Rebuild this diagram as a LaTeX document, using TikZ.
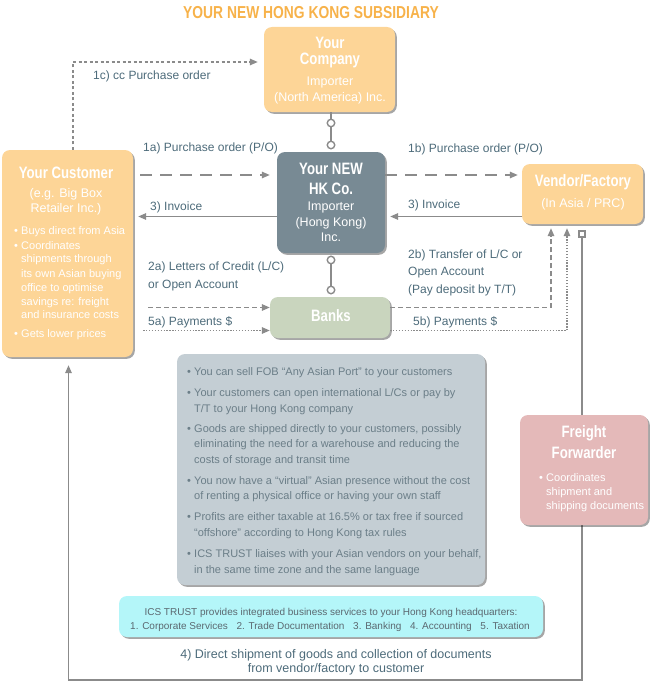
\documentclass[tikz,border=0pt]{standalone}
\usepackage{fontspec}
\setmainfont{Liberation Sans}
\newfontfamily\hkn{Liberation Sans}
\newfontfamily\hkb[FakeStretch=0.8]{Liberation Sans Bold}
\usetikzlibrary{arrows.meta,shadows}
\definecolor{peach}{HTML}{FDD597}
\definecolor{titlec}{HTML}{F7B24A}
\definecolor{hkc}{HTML}{788A94}
\definecolor{bankc}{HTML}{C9D5BE}
\definecolor{greyc}{HTML}{C4CED4}
\definecolor{freightc}{HTML}{E4B9B9}
\definecolor{icsc}{HTML}{B4F6F9}
\definecolor{labc}{HTML}{4D6B7A}
\definecolor{gtxt}{HTML}{6B7E88}
\definecolor{icstxt}{HTML}{5B6870}
\definecolor{conc}{HTML}{8B8B8B}
\tikzset{
  box/.style={rounded corners=8pt, inner sep=0pt,
    drop shadow={shadow xshift=1.8pt, shadow yshift=-1.8pt, opacity=0.35, fill=black}},
  con/.style={draw=conc, line width=1.4pt},
  arr/.style={-{Triangle[length=8pt,width=6.5pt]}},
  dashL/.style={dash pattern=on 12pt off 8pt},
  dashS/.style={dash pattern=on 5pt off 3pt},
  dotS/.style={dash pattern=on 1.3pt off 1.6pt},
  dotC/.style={dash pattern=on 3pt off 2.5pt},
  ring/.style={circle, draw=conc, line width=1.4pt, fill=white, inner sep=0pt, minimum size=7.5pt},
  sqr/.style={rectangle, draw=conc, line width=1.2pt, fill=white, inner sep=0pt, minimum size=6pt},
  lab/.style={anchor=base west, inner sep=0pt, text=labc, font=\hkn\fontsize{12}{14}\selectfont, yshift=-4.3pt},
  labc/.style={anchor=base, inner sep=0pt, text=labc, font=\hkn\fontsize{12.5}{14}\selectfont, yshift=-4.5pt},
  ttlT/.style={anchor=base, inner sep=0pt, text=titlec, font=\hkb\fontsize{17.3}{19}\selectfont, yshift=-6.2pt},
  ttl/.style={anchor=base, inner sep=0pt, text=white, font=\hkb\fontsize{16.5}{18}\selectfont, yshift=-5.9pt},
  sub/.style={anchor=base, inner sep=0pt, text=white, font=\hkn\fontsize{12.5}{14}\selectfont, yshift=-4.5pt},
  bul/.style={anchor=base west, inner sep=0pt, text=white, font=\hkn\fontsize{11}{13}\selectfont, yshift=-4pt},
  bulF/.style={anchor=base west, inner sep=0pt, text=white, font=\hkn\fontsize{11}{13}\selectfont, yshift=-4pt},
  gb/.style={anchor=base west, inner sep=0pt, text=gtxt, font=\hkn\fontsize{11}{13}\selectfont, yshift=-4pt},
  ics/.style={anchor=base, inner sep=0pt, text=icstxt, font=\hkn\fontsize{10}{12}\selectfont, yshift=-3.6pt}
}
\newcommand{\bu}{\makebox[7pt][l]{•}}
\begin{document}
\begin{tikzpicture}[x=1pt,y=-1pt]
\useasboundingbox (0,0) rectangle (654,685);

% boxes
\node[box, fill=peach, minimum width=131pt, minimum height=85pt] (company) at (329.5,69.5) {};
\node[box, fill=hkc, minimum width=108pt, minimum height=101pt] (hk) at (331,202.5) {};
\node[box, fill=peach, minimum width=131pt, minimum height=207pt] (customer) at (67.5,253.5) {};
\node[box, fill=peach, minimum width=121pt, minimum height=60pt] (vendor) at (582.5,194) {};
\node[box, fill=bankc, minimum width=120pt, minimum height=41pt] (banks) at (330,317.5) {};
\node[box, fill=greyc, minimum width=308pt, minimum height=231pt] (grey) at (331,469.5) {};
\node[box, fill=icsc, minimum width=424pt, minimum height=41pt] (icsbox) at (331,616.5) {};

% row coordinates
\coordinate (r1) at (0,175);
\coordinate (r3) at (0,216.5);
\coordinate (r2) at (0,307.5);
\coordinate (r5) at (0,330.5);
\coordinate (c1) at (73,62);
\coordinate (v2) at (551,0);
\coordinate (v5) at (567,0);
\coordinate (l4) at (68.5,0);
\coordinate (bot) at (0,680);

% ring connectors
\node[ring] (o1) at (331,123) {};
\node[ring] (o2) at (331,145) {};
\node[ring] (o3) at (331,260) {};
\node[ring] (o4) at (331,290) {};
\draw[con] (company.south -| o1) -- (o1);
\draw[con] (o1) -- (o2);
\draw[con] (o3) -- (o4);

% connectors
\draw[con, dotC, arr, shorten >=6pt] (c1 |- customer.north) -- (c1) -- (c1 -| company.west);
\draw[con, dashL, arr, shorten <=7pt, shorten >=7pt] (customer.east |- r1) -- (hk.west |- r1);
\draw[con, dashL, arr, shorten >=4pt] (hk.east |- r1) -- (vendor.west |- r1);
\draw[con, arr, shorten >=5pt] (hk.west |- r3) -- (customer.east |- r3);
\draw[con, arr, shorten >=5pt] (vendor.west |- r3) -- (hk.east |- r3);
\draw[con, dashS, arr, shorten <=15pt] (customer.east |- r2) -- (banks.west |- r2);
\draw[con, dotS, arr, shorten <=10pt] (customer.east |- r5) -- (banks.west |- r5);
\draw[con, dashS, arr, shorten >=4pt] (banks.east |- r2) -| (v2 |- vendor.south);
\draw[con, dotS, arr, shorten >=4pt] (banks.east |- r5) -| (v5 |- vendor.south);
\node[sqr] (sq) at (582,234) {};
\draw[con, arr, shorten >=8pt] (sq.south) |- (l4 |- bot) -- (l4 |- customer.south);

% freight forwarder box (over the line)
\node[box, fill=freightc, minimum width=128pt, minimum height=110pt] (freight) at (584,470) {};

% title
\node[ttlT] (title) at (311,12) {YOUR NEW HONG KONG SUBSIDIARY};

% company text
\node[ttl] (tc1) at (330,43) {Your};
\node[ttl] (tc2) at (330,59) {Company};
\node[sub] (tc3) at (330,81) {Importer};
\node[sub] (tc4) at (330,97) {(North America) Inc.};

% hk text
\node[ttl] (th1) at (331,169) {Your NEW};
\node[ttl] (th2) at (331,189) {HK Co.};
\node[sub] (th3) at (331,206) {Importer};
\node[sub] (th4) at (331,221.5) {(Hong Kong)};
\node[sub] (th5) at (331,237) {Inc.};

% vendor text
\node[ttl] (tv1) at (583,181) {Vendor/Factory};
\node[sub] (tv2) at (583,203) {(In Asia / PRC)};

% banks text
\node[ttl] (tb1) at (331,316) {Banks};

% customer text
\node[ttl] (tu1) at (66,173) {Your Customer};
\node[sub] (tu2) at (66,193) {(e.g. Big Box};
\node[sub] (tu3) at (66,208) {Retailer Inc.)};
\node[bul] (tu4) at (14,230) {\bu Buys direct from Asia};
\node[bul] (tu5) at (14,245) {\bu Coordinates};
\node[bul] (tu6) at (21,258) {shipments through};
\node[bul] (tu7) at (21,273) {its own Asian buying};
\node[bul] (tu8) at (21,287) {office to optimise};
\node[bul] (tu9) at (21,301) {savings re: freight};
\node[bul] (tu10) at (21,314) {and insurance costs};
\node[bul] (tu11) at (14,333) {\bu Gets lower prices};

% freight text
\node[ttl] (tf1) at (584,432) {Freight};
\node[ttl] (tf2) at (584,453) {Forwarder};
\node[bulF] (tf3) at (539,477) {\bu Coordinates};
\node[bulF] (tf4) at (546,491) {shipment and};
\node[bulF] (tf5) at (546,505) {shipping documents};

% labels
\node[lab] (l1c) at (93,75) {1c) cc Purchase order};
\node[lab] (l1a) at (143,147) {1a) Purchase order (P/O)};
\node[lab] (l1b) at (408,148) {1b) Purchase order (P/O)};
\node[lab] (l3a) at (150,206) {3) Invoice};
\node[lab] (l3b) at (408,204) {3) Invoice};
\node[lab] (l2a1) at (148,266) {2a) Letters of Credit (L/C)};
\node[lab] (l2a2) at (148,284) {or Open Account};
\node[lab] (l2b1) at (408,254.5) {2b) Transfer of L/C or};
\node[lab] (l2b2) at (408,271.5) {Open Account};
\node[lab] (l2b3) at (408,289) {(Pay deposit by T/T)};
\node[lab] (l5a) at (148,321) {5a) Payments \$};
\node[lab] (l5b) at (413,321) {5b) Payments \$};

% grey box text
\node[gb] (g1) at (187,371) {\bu You can sell FOB “Any Asian Port” to your customers};
\node[gb] (g2) at (187,392) {\bu Your customers can open international L/Cs or pay by};
\node[gb] (g3) at (194,408) {T/T to your Hong Kong company};
\node[gb] (g4) at (187,428) {\bu Goods are shipped directly to your customers, possibly};
\node[gb] (g5) at (194,443) {eliminating the need for a warehouse and reducing the};
\node[gb] (g6) at (194,459) {costs of storage and transit time};
\node[gb] (g7) at (187,480) {\bu You now have a “virtual” Asian presence without the cost};
\node[gb] (g8) at (194,495) {of renting a physical office or having your own staff};
\node[gb] (g9) at (187,516) {\bu Profits are either taxable at 16.5\% or tax free if sourced};
\node[gb] (g10) at (194,532) {“offshore” according to Hong Kong tax rules};
\node[gb] (g11) at (187,553) {\bu ICS TRUST liaises with your Asian vendors on your behalf,};
\node[gb] (g12) at (194,569) {in the same time zone and the same language};

% ics text
\node[ics] (i1) at (331,612) {ICS TRUST provides integrated business services to your Hong Kong headquarters:};
\node[ics] (i2) at (330,626) {1. Corporate Services\hspace{6pt} 2. Trade Documentation\hspace{6pt} 3. Banking\hspace{6pt} 4. Accounting\hspace{6pt} 5. Taxation};

% bottom label
\node[labc] (b1) at (336,654) {4) Direct shipment of goods and collection of documents};
\node[labc] (b2) at (336,668) {from vendor/factory to customer};
\end{tikzpicture}
\end{document}
